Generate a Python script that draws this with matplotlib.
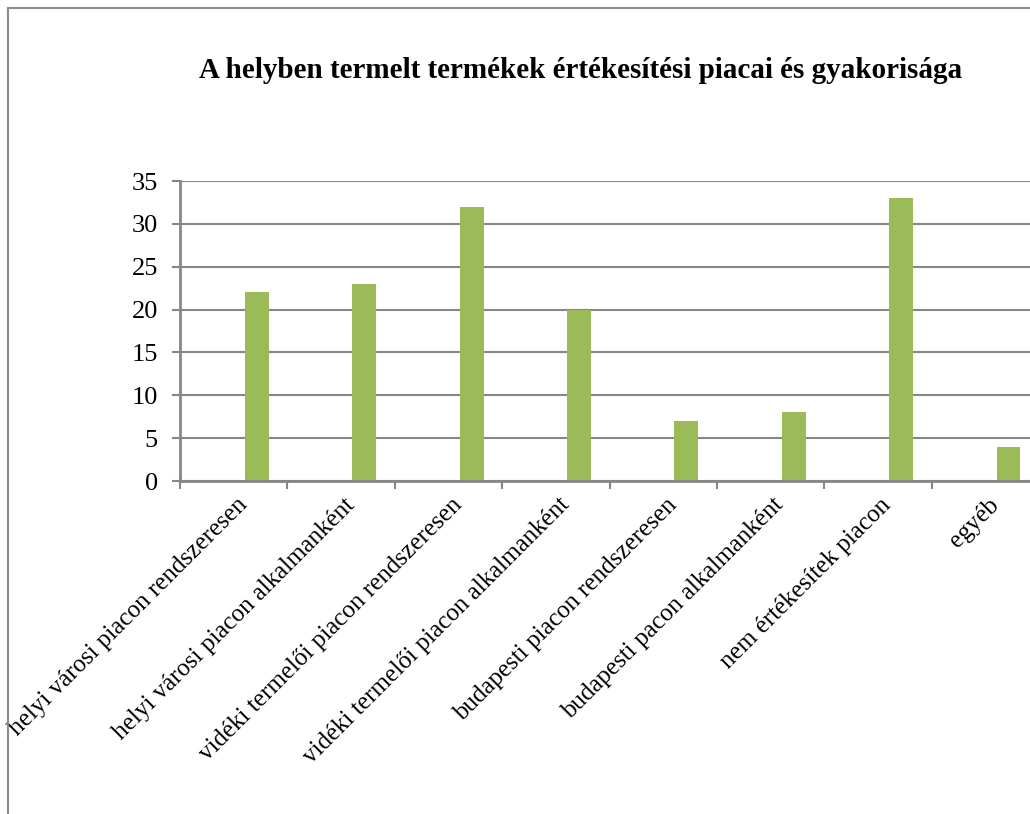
import matplotlib
matplotlib.use("Agg")
import matplotlib.pyplot as plt
import numpy as np

# Értékesítési piacok és az említések száma
kategoriak = [
    "helyi városi piacon rendszeresen",
    "helyi városi piacon alkalmanként",
    "vidéki termelői piacon rendszeresen",
    "vidéki termelői piacon alkalmanként",
    "budapesti piacon rendszeresen",
    "budapesti pacon alkalmanként",
    "nem értékesítek piacon",
    "egyéb",
]
ertekek = [22, 23, 32, 20, 7, 8, 33, 4]
y_tickek = [0, 5, 10, 15, 20, 25, 30, 35]

plt.rcParams['font.family'] = ['Liberation Serif', 'DejaVu Serif']

szurke = '#868686'
zold = '#9BBB59'

fig = plt.figure(figsize=(10.30, 8.14), dpi=100)
ax = fig.add_axes([180/1030, 1 - 481/814, 859/1030, 300/814])

x = np.arange(len(kategoriak))
ax.bar(x + 0.216, ertekek, width=0.223, color=zold, zorder=3)

ax.set_xlim(-0.5, len(kategoriak) - 0.5)
ax.set_ylim(0, 35)
ax.set_yticks(y_tickek)
ax.set_yticklabels([str(v) for v in y_tickek], fontsize=19)
ax.yaxis.grid(True, color=szurke, linewidth=1.5, zorder=0)

# kategória határok osztásjelekkel, feliratok a kategóriák közepén
ax.set_xticks(np.arange(len(kategoriak) + 1) - 0.5)
ax.set_xticklabels([])
ax.tick_params(axis='x', which='major', length=6, width=1.5, color=szurke, direction='out')
ax.tick_params(axis='y', length=6, width=1.5, color=szurke, direction='out', pad=10)

for i, nev in enumerate(kategoriak):
    ax.text(i + 0.02, -1.5, nev, rotation=45, ha='right', va='top',
            rotation_mode='anchor', fontsize=18, transform=ax.transData,
            clip_on=False)

for s in ['top', 'right']:
    ax.spines[s].set_visible(False)
for s in ['left', 'bottom']:
    ax.spines[s].set_color(szurke)
    ax.spines[s].set_linewidth(2)
ax.spines['bottom'].set_zorder(4)

fig.text(581/1030, 1 - 70/814,
         "A helyben termelt termékek értékesítési piacai és gyakorisága",
         ha='center', va='center', fontsize=21, fontweight='bold')

# keret a diagram körül
fig.add_artist(plt.Line2D([7.5/1030, 7.5/1030], [0, 1 - 8/814], color='#8c8c8c',
                          linewidth=1.5, transform=fig.transFigure))
fig.add_artist(plt.Line2D([7.5/1030, 1], [1 - 8/814, 1 - 8/814], color='#8c8c8c',
                          linewidth=1.5, transform=fig.transFigure))

fig.savefig("out.png", dpi=100)
